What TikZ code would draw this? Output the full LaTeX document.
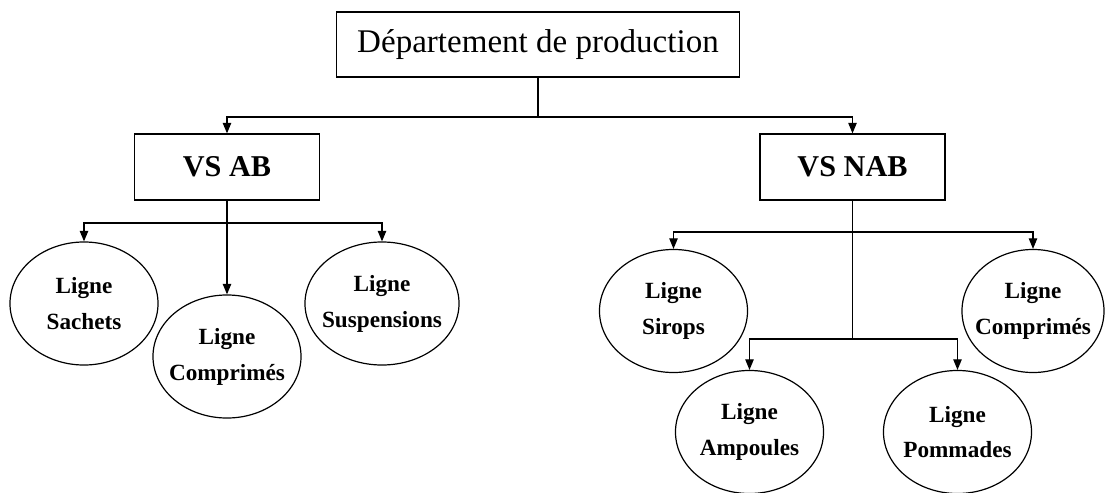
\documentclass[tikz,border=0pt]{standalone}
\usepackage{fontspec}
\setmainfont{Liberation Serif}
\usetikzlibrary{shapes.geometric,arrows.meta}
\newcommand{\ligne}[1]{\makebox[0pt]{Ligne}\\\makebox[0pt]{#1}}

\begin{document}
\begin{tikzpicture}[x=0.025cm,y=-0.025cm,line width=0.85pt,
  boite/.style={draw,rectangle,minimum width=4.625cm,minimum height=1.65cm,inner sep=0pt,
    font=\fontsize{21.5}{25}\selectfont\bfseries},
  bulle/.style={draw,ellipse,minimum width=3.7cm,minimum height=3.075cm,inner sep=0pt,
    align=center,font=\fontsize{16.5}{25.5}\selectfont\bfseries},
  fleche/.style={-{Triangle[length=7.5pt,width=6pt]}}]

\useasboundingbox (0,0) rectangle (1105,493);

% niveaux
\node[draw,minimum width=10.075cm,minimum height=1.625cm,inner sep=0pt,
  font=\fontsize{23.5}{28}\selectfont] (dep) at (538,44.5) {Département de production};
\node[boite] (vsab) at (227,167) {VS AB};
\node[boite] (vsnab) at (852.5,167) {VS NAB};

\node[bulle] (sachets) at (84,303.5) {\ligne{Sachets}};
\node[bulle] (compab) at (227,356.5) {\ligne{Comprimés}};
\node[bulle,minimum width=3.85cm] (susp) at (382,303.5) {\ligne{Suspensions}};

\node[bulle] (sirops) at (673.5,311) {\ligne{Sirops}};
\node[bulle,minimum width=3.55cm] (compnab) at (1033,311) {\ligne{Comprimés}};
\node[bulle] (ampoules) at (749.5,432) {\ligne{Ampoules}};
\node[bulle] (pommades) at (957.5,432) {\ligne{Pommades}};

% jonctions
\coordinate (j0) at (538,117);
\coordinate (j1) at (227,223);
\coordinate (j2) at (852.5,232);
\coordinate (j3) at (852.5,339);

\draw (dep) -- (j0);
\draw[fleche] (j0) -| (vsab);
\draw[fleche] (j0) -| (vsnab);

\draw[fleche] (vsab) -- (compab);
\draw[fleche] (j1) -| (sachets);
\draw[fleche] (j1) -| (susp);

\draw (vsnab) -- (j3);
\draw[fleche] (j2) -| (sirops);
\draw[fleche] (j2) -| (compnab);
\draw[fleche] (j3) -| (ampoules);
\draw[fleche] (j3) -| (pommades);
\end{tikzpicture}
\end{document}
